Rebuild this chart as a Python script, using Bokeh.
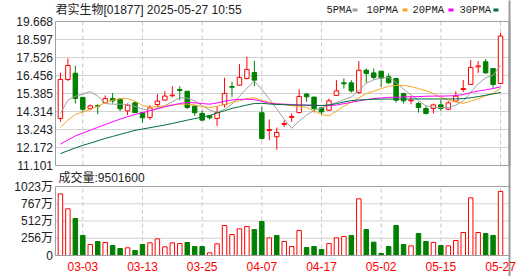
from bokeh.plotting import figure
from bokeh.models import Range1d, ColumnDataSource
from bokeh.core.properties import value
from bokeh.embed import file_html
from bokeh.resources import INLINE

# ---------------- data ----------------
title_text = "君实生物[01877] 2025-05-27 10:55"
vol_title = "成交量:9501600"

dates = ["02-26", "02-27", "02-28",
         "03-03", "03-04", "03-05", "03-06", "03-07",
         "03-10", "03-11", "03-12", "03-13", "03-14",
         "03-17", "03-18", "03-19", "03-20", "03-21",
         "03-24", "03-25", "03-26", "03-27", "03-28",
         "03-31", "04-01", "04-02", "04-03",
         "04-07", "04-08", "04-09", "04-10", "04-11",
         "04-14", "04-15", "04-16", "04-17",
         "04-22", "04-23", "04-24", "04-25",
         "04-28", "04-29", "04-30", "05-02",
         "05-06", "05-07", "05-08", "05-09",
         "05-12", "05-13", "05-14", "05-15", "05-16",
         "05-19", "05-20", "05-21", "05-22", "05-23",
         "05-26", "05-27"]

opens = [13.90, 16.22, 16.59, 15.15, 14.47, 14.67, 14.85, 15.09, 15.05, 14.35,
         14.83, 14.24, 13.96, 14.73, 14.99, 15.25, 15.62, 15.52, 14.63, 14.20,
         14.06, 13.90, 14.73, 15.80, 15.88, 16.28, 16.63, 14.24, 13.18, 12.81,
         13.54, 13.96, 14.25, 15.35, 15.17, 14.53, 14.39, 15.27, 16.02, 16.02,
         15.44, 16.77, 16.61, 16.71, 16.38, 16.28, 15.39, 14.95, 14.79, 14.49,
         14.49, 14.71, 14.45, 14.93, 15.62, 15.92, 16.97, 17.27, 16.87, 15.98]
highs = [16.63, 17.47, 17.03, 15.19, 14.73, 14.75, 15.27, 15.41, 15.11, 14.79,
         14.91, 14.29, 14.69, 15.35, 15.52, 15.82, 15.82, 15.52, 14.69, 14.39,
         14.10, 14.63, 16.32, 16.08, 17.13, 17.57, 17.33, 14.59, 13.84, 13.36,
         13.80, 14.20, 15.64, 15.42, 15.19, 14.55, 15.09, 16.18, 16.28, 16.18,
         17.31, 16.87, 16.87, 16.73, 16.58, 16.32, 15.41, 15.23, 14.89, 14.63,
         14.79, 14.99, 14.93, 15.52, 16.18, 17.37, 17.31, 17.43, 16.87, 18.99]
lows = [13.70, 16.12, 14.79, 14.25, 14.39, 14.15, 14.83, 14.79, 14.33, 14.10,
        14.24, 13.64, 13.82, 14.55, 14.97, 15.15, 14.99, 14.47, 14.06, 13.76,
        13.84, 13.46, 14.55, 15.19, 15.84, 16.22, 15.82, 12.65, 12.61, 12.05,
        13.40, 13.70, 14.20, 14.89, 14.25, 14.14, 14.35, 15.27, 15.68, 15.44,
        15.36, 16.02, 16.22, 15.78, 15.98, 14.85, 14.79, 14.75, 14.25, 14.14,
        14.20, 14.35, 14.39, 14.89, 15.48, 15.92, 16.61, 16.58, 15.72, 15.98]
closes = [16.22, 17.05, 15.09, 14.45, 14.65, 14.63, 15.09, 14.95, 14.47, 14.69,
          14.25, 13.94, 14.53, 14.93, 15.23, 15.29, 15.56, 14.55, 14.24, 13.80,
          13.94, 14.25, 15.39, 15.76, 16.34, 16.81, 16.18, 12.71, 13.24, 13.07,
          13.60, 14.02, 15.21, 15.19, 14.49, 14.29, 14.95, 15.54, 15.96, 15.54,
          16.77, 16.58, 16.34, 16.30, 16.02, 14.99, 14.95, 14.99, 14.55, 14.20,
          14.71, 14.49, 14.83, 15.23, 15.68, 16.93, 17.03, 16.61, 15.92, 18.80]

# volume in 万 shares; 1 = up day (red), 0 = down day (green)
volumes = [914, 692, 549, 297, 163, 208, 193, 148, 104, 114,
           74, 163, 188, 247, 129, 188, 178, 193, 133, 133,
           40, 173, 445, 311, 395, 430, 385, 504, 262, 297,
           208, 133, 371, 119, 133, 89, 178, 262, 282, 297,
           840, 385, 198, 30, 133, 445, 163, 143, 326, 208,
           193, 148, 143, 222, 341, 855, 341, 326, 297, 950.16]
vol_up = [1, 1, 0, 0, 1, 0, 1, 0, 0, 1,
          0, 0, 1, 1, 1, 1, 1, 0, 0, 0,
          1, 1, 1, 1, 1, 1, 0, 0, 1, 0,
          1, 1, 1, 0, 0, 0, 1, 1, 1, 0,
          1, 0, 0, 0, 0, 0, 0, 1, 0, 0,
          1, 0, 1, 1, 1, 1, 1, 0, 0, 1]

ma5 = [14.20, 14.99, 15.22, 15.34, 15.50, 15.22, 14.79, 14.75, 14.75, 14.73,
       14.62, 14.45, 14.39, 14.50, 14.66, 14.89, 15.13, 15.11, 14.94, 14.67,
       14.39, 14.27, 14.43, 14.76, 15.21, 15.70, 16.12, 15.62, 15.07, 14.47,
       13.85, 13.32, 13.75, 14.10, 14.38, 14.52, 14.73, 14.84, 15.02, 15.18,
       15.55, 16.00, 16.20, 16.30, 16.34, 16.04, 15.65, 15.30, 14.97, 14.65,
       14.58, 14.54, 14.55, 14.69, 14.94, 15.45, 15.96, 16.32, 16.47, 17.07]
ma10 = [13.36, 13.80, 14.13, 14.29, 14.43, 14.63, 14.83, 14.99, 15.07, 15.08,
        14.93, 14.68, 14.58, 14.60, 14.65, 14.70, 14.75, 14.75, 14.70, 14.61,
        14.55, 14.62, 14.73, 14.85, 14.96, 15.09, 15.13, 14.97, 14.86, 14.78,
        14.72, 14.66, 14.62, 14.55, 14.35, 14.14, 14.05, 14.33, 14.62, 14.87,
        15.12, 15.38, 15.52, 15.67, 15.82, 15.87, 15.86, 15.80, 15.68, 15.55,
        15.38, 15.15, 15.00, 14.88, 14.80, 14.93, 15.07, 15.25, 15.40, 15.70]
ma20 = [12.37, 12.62, 12.86, 13.03, 13.20, 13.37, 13.54, 13.70, 13.86, 14.00,
        14.14, 14.25, 14.35, 14.47, 14.59, 14.69, 14.79, 14.85, 14.83, 14.79,
        14.75, 14.82, 14.92, 15.00, 15.03, 15.04, 15.02, 14.92, 14.80, 14.76,
        14.75, 14.73, 14.70, 14.69, 14.68, 14.67, 14.66, 14.70, 14.78, 14.86,
        14.95, 15.02, 15.08, 15.12, 15.15, 15.17, 15.18, 15.19, 15.20, 15.22,
        15.23, 15.23, 15.24, 15.26, 15.32, 15.44, 15.53, 15.60, 15.68, 15.78]
ma30 = [11.81, 11.98, 12.14, 12.30, 12.43, 12.57, 12.71, 12.83, 12.95, 13.07,
        13.19, 13.27, 13.35, 13.43, 13.51, 13.60, 13.70, 13.80, 13.89, 13.98,
        14.08, 14.22, 14.36, 14.50, 14.60, 14.70, 14.79, 14.80, 14.76, 14.73,
        14.72, 14.70, 14.70, 14.69, 14.68, 14.67, 14.70, 14.78, 14.88, 14.96,
        15.00, 15.02, 15.04, 15.05, 15.05, 15.05, 15.05, 15.06, 15.06, 15.06,
        15.06, 15.06, 15.06, 15.06, 15.08, 15.13, 15.20, 15.28, 15.36, 15.45]

ma_names = ["5PMA", "10PMA", "20PMA", "30PMA"]

price_ticks = [11.101, 12.172, 13.243, 14.314, 15.385, 16.456, 17.526, 18.597, 19.668]
price_tick_labels = ["11.101", "12.172", "13.243", "14.314", "15.385",
                     "16.456", "17.526", "18.597", "19.668"]
vol_ticks = [0, 256, 512, 767, 1023]
vol_tick_labels = ["0", "256万", "512万", "767万", "1023万"]
date_ticks = ["03-03", "03-13", "03-25", "04-07", "04-17", "05-02", "05-15", "05-27"]

# ---------------- style / layout ----------------
RED = "#ff0000"
GREEN = "#008000"
MA_COLORS = ["#a0a0a0", "#f5a623", "#ff00ff", "#006f3c"]
GRID = "#d2d2d2"
VGRID = "#c8c8c8"
FRAME = "#a0a0a0"
TXT = "#222222"
NUM_FONT = "Liberation Sans"
CJK_FONT = "Liberation Sans, Noto Sans CJK SC"
LEG_FONT = "Liberation Mono"

W, H = 530, 276
FL, FR = 55, 509          # frames left / right (window px)
P_TOP, P_BOT = 21, 165    # price frame top / bottom (window px)
V_TOP, V_BOT = 186, 255   # volume frame top / bottom (window px)
LABEL_RIGHT = 52.5        # right edge of the axis labels
DATE_Y = 266              # centre of the date labels
TITLE_Y = 9
VOL_TITLE_Y = 177.5

n = len(dates)
xs = list(range(n))
x_lo, x_hi = -0.66, 60.2   # index units spanned by the frames


def wx(px):
    return x_lo + (px - FL) * (x_hi - x_lo) / (FR - FL)


def wy_price(py):
    lo, hi = price_ticks[0], price_ticks[-1]
    return hi - (py - P_TOP) * (hi - lo) / (P_BOT - P_TOP)


def wy_vol(py):
    lo, hi = vol_ticks[0], vol_ticks[-1]
    return hi - (py - V_TOP) * (hi - lo) / (V_BOT - V_TOP)


p = figure(width=W, height=H, title=None,
           x_range=Range1d(wx(0), wx(W)),
           y_range=Range1d(wy_price(H), wy_price(0)),
           x_axis_location=None, y_axis_location=None,
           output_backend="svg", toolbar_location=None,
           min_border_left=0, min_border_right=0, min_border_top=0, min_border_bottom=0)
p.min_border = 0
p.extra_x_ranges = {"px": Range1d(0, W)}
p.extra_y_ranges = {"vol": Range1d(wy_vol(H), wy_vol(0)), "py": Range1d(H, 0)}
p.grid.visible = False
p.outline_line_color = None
p.background_fill_color = "white"
p.border_fill_color = "white"

date_idx = [dates.index(d) for d in date_ticks]
P_LO, P_HI = price_ticks[0], price_ticks[-1]
V_LO, V_HI = vol_ticks[0], vol_ticks[-1]

# ---- grids ----
inner_p = price_ticks[1:-1]
p.segment(x0=[x_lo] * len(inner_p), x1=[x_hi] * len(inner_p), y0=inner_p, y1=inner_p,
          line_color=GRID, line_width=1)
p.segment(x0=date_idx, x1=date_idx, y0=[P_LO] * len(date_idx), y1=[P_HI] * len(date_idx),
          line_color=VGRID, line_width=1, line_dash="4 3")
inner_v = vol_ticks[1:-1]
p.segment(x0=[x_lo] * len(inner_v), x1=[x_hi] * len(inner_v), y0=inner_v, y1=inner_v,
          line_color=GRID, line_width=1, y_range_name="vol")
p.segment(x0=date_idx, x1=date_idx, y0=[V_LO] * len(date_idx), y1=[V_HI] * len(date_idx),
          line_color=VGRID, line_width=1, line_dash="4 3", y_range_name="vol")

# ---- candles ----
up_idx = [i for i in xs if closes[i] >= opens[i]]
dn_idx = [i for i in xs if closes[i] < opens[i]]


def cdata(idx):
    return ColumnDataSource(dict(
        x=[xs[i] for i in idx],
        hi=[highs[i] for i in idx],
        lo=[lows[i] for i in idx],
        top=[max(opens[i], closes[i]) for i in idx],
        bot=[min(opens[i], closes[i]) for i in idx],
    ))


src_up = cdata(up_idx)
src_dn = cdata(dn_idx)
p.segment(x0="x", y0="lo", x1="x", y1="hi", source=src_up, line_color=RED, line_width=1)
p.vbar(x="x", width=0.6, top="top", bottom="bot", source=src_up,
       fill_color="white", line_color=RED, line_width=1)
p.segment(x0="x", y0="lo", x1="x", y1="hi", source=src_dn, line_color=GREEN, line_width=1)
p.vbar(x="x", width=0.6, top="top", bottom="bot", source=src_dn,
       fill_color=GREEN, line_color=GREEN, line_width=1)

for ma, col in zip([ma5, ma10, ma20, ma30], MA_COLORS):
    p.line(xs, ma, line_color=col, line_width=1)

# ---- volume bars ----
vu = [i for i in xs if vol_up[i] == 1]
vd = [i for i in xs if vol_up[i] == 0]
p.vbar(x=[xs[i] for i in vu], top=[volumes[i] for i in vu], bottom=V_LO, width=0.6,
       fill_color="white", line_color=RED, line_width=1, y_range_name="vol")
p.vbar(x=[xs[i] for i in vd], top=[volumes[i] for i in vd], bottom=V_LO, width=0.6,
       fill_color=GREEN, line_color=GREEN, line_width=1, y_range_name="vol")

# ---- frames ----
p.quad(left=[x_lo], right=[x_hi], bottom=[P_LO], top=[P_HI],
       fill_color=None, line_color=FRAME, line_width=1)
p.quad(left=[x_lo], right=[x_hi], bottom=[V_LO], top=[V_HI],
       fill_color=None, line_color=FRAME, line_width=1, y_range_name="vol")
# slightly heavier right edge, as in the reference
p.segment(x0=[x_hi, x_hi], x1=[x_hi, x_hi], y0=[P_LO, V_LO], y1=[P_HI, V_HI],
          line_color="#999999", line_width=2)

# ---- axis labels ----
p.text(x=[LABEL_RIGHT] * len(price_ticks), y=price_ticks, text=price_tick_labels,
       x_range_name="px", text_font=value(NUM_FONT), text_font_size=value("12px"),
       text_color=TXT, text_align="right", text_baseline="middle")
p.text(x=[LABEL_RIGHT] * len(vol_ticks), y=vol_ticks, text=vol_tick_labels,
       x_range_name="px", y_range_name="vol", text_font=value(CJK_FONT),
       text_font_size=value("12px"), text_color=TXT, text_align="right",
       text_baseline="middle")
p.text(x=date_idx, y=[DATE_Y] * len(date_idx), text=date_ticks, y_range_name="py",
       text_font=value(NUM_FONT), text_font_size=value("12px"), text_color=RED,
       text_align="center", text_baseline="middle")

# ---- titles ----
p.text(x=[FL], y=[TITLE_Y], text=[title_text], x_range_name="px", y_range_name="py",
       text_font=value(CJK_FONT), text_font_size=value("12px"), text_color=TXT,
       text_align="left", text_baseline="middle")
p.text(x=[58], y=[VOL_TITLE_Y], text=[vol_title], x_range_name="px", y_range_name="py",
       text_font=value(CJK_FONT), text_font_size=value("12px"), text_color=TXT,
       text_align="left", text_baseline="middle")

# ---- legend: name followed by a small colour chip ----
leg_text_px = [326, 366, 412, 459]
leg_chip_px = [352, 402, 448, 493]
p.text(x=leg_text_px, y=[TITLE_Y] * 4, text=ma_names, x_range_name="px", y_range_name="py",
       text_font=value(LEG_FONT), text_font_size=value("10.5px"), text_color=TXT,
       text_align="left", text_baseline="middle")
p.quad(left=leg_chip_px, right=[c + 5 for c in leg_chip_px], top=[8] * 4, bottom=[11] * 4,
       fill_color=MA_COLORS, line_color=None, x_range_name="px", y_range_name="py")

open("out.html", "w").write(file_html(p, INLINE))
